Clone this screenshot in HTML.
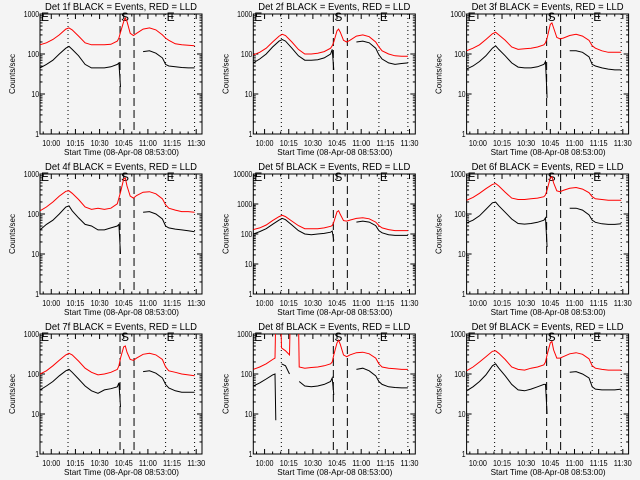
<!DOCTYPE html>
<html><head><meta charset="utf-8">
<style>
html,body{margin:0;padding:0;background:#f4f4f4;}
svg{display:block;font-family:"Liberation Sans",sans-serif;}
</style></head>
<body>
<svg id="chart" width="640" height="480" viewBox="0 0 640 480">
<rect width="640" height="480" fill="#f4f4f4"/>
</svg>
<script>
const T = [0,4,8,12,16,18,20,24,28,32,36,40,44,48,49,50,52,53,54,56,58,60,64,68,72,76,78,80,84,88,92,96];
const T8 = [0,4,8,12,13.5,14,14.5,17,17.5,20,22.5,23,28,28.5,32,36,40,44,48,49,50,52,53,54,56,58,60,64,68,72,76,78,80,84,88,92,96];
const tickLabels = ["10:00","10:15","10:30","10:45","11:00","11:15","11:30"];
const tickTimes = [7,22,37,52,67,82,97];
const dottedTimes = [17.4,78,96];
const dashedTimes = [49.7,58.4];
const detNames = ["1f","2f","3f","4f","5f","6f","7f","8f","9f"];
const N = null;
const red1 = [170,190,230,300,420,450,400,280,190,170,170,170,175,210,250,350,650,800,650,330,290,330,420,450,400,300,250,220,180,170,165,160];
const blk1 = [45,55,70,100,140,155,130,90,55,45,45,45,48,55,60,15,N,N,N,N,N,N,115,120,105,80,55,50,48,46,45,45];
const red2 = [95,110,140,200,280,310,290,200,130,100,100,105,115,140,160,200,380,420,350,220,200,220,280,300,270,200,150,120,100,90,88,88];
const blk2 = [60,75,100,150,210,230,210,140,90,70,70,72,80,100,130,40,N,N,N,N,N,N,200,210,190,140,95,75,60,55,58,60];
const red3 = [120,140,170,230,320,350,300,220,150,130,135,140,150,170,190,250,550,600,450,260,240,250,290,310,280,220,160,140,120,110,110,110];
const blk3 = [42,50,65,90,140,160,130,90,60,47,45,45,48,55,65,8,N,N,N,N,N,N,120,120,110,85,55,50,45,42,40,40];
const red4 = [120,150,200,280,370,380,330,230,150,130,140,130,140,180,250,350,750,800,500,280,250,290,350,360,320,240,170,140,125,115,115,110];
const blk4 = [40,55,70,100,150,160,120,80,55,50,40,40,45,50,55,10,N,N,N,N,N,N,110,115,100,75,50,45,42,40,38,36];
const red5 = [140,160,200,280,380,420,380,270,190,150,150,150,160,180,190,250,550,600,450,280,270,290,330,350,320,250,190,160,140,130,130,130];
const blk5 = [100,120,150,210,290,330,300,200,130,100,95,100,105,115,125,60,N,N,N,N,N,N,250,270,250,190,130,110,95,90,90,90];
const red6 = [220,260,330,430,550,580,500,350,250,230,230,240,250,270,300,400,800,850,600,380,360,390,440,460,420,340,270,240,230,220,220,220];
const blk6 = [60,70,90,130,190,200,160,110,75,58,56,58,62,70,80,15,N,N,N,N,N,N,140,140,125,95,70,62,57,55,55,57];
const red7 = [100,120,160,220,300,330,300,210,140,110,95,100,110,130,160,250,480,500,350,230,220,250,310,330,300,230,150,120,110,100,95,90];
const blk7 = [40,50,65,90,120,130,110,75,50,38,33,40,43,48,60,15,N,N,N,N,N,N,115,120,105,80,55,45,38,35,35,35];
const red8 = [130,150,180,230,250,3000,3000,3000,450,380,300,3000,3000,150,140,145,150,160,180,200,300,600,700,550,300,270,300,340,350,320,250,180,150,140,135,130,130];
const blk8 = [50,60,75,95,100,7,N,N,180,160,100,N,N,65,50,48,50,55,65,80,30,N,N,N,N,N,N,130,140,120,90,65,55,48,46,45,45];
const red9 = [120,150,200,270,370,380,330,230,150,130,125,140,150,170,200,300,600,650,400,250,250,270,320,340,310,240,160,140,130,125,125,125];
const blk9 = [38,48,65,95,160,180,140,90,55,40,38,42,48,55,55,10,N,N,N,N,N,N,110,115,100,80,48,42,40,40,40,42];

const panels = [
 {t:T,r:red1,b:blk1,dec:3},{t:T,r:red2,b:blk2,dec:3},{t:T,r:red3,b:blk3,dec:3},
 {t:T,r:red4,b:blk4,dec:3},{t:T,r:red5,b:blk5,dec:4},{t:T,r:red6,b:blk6,dec:3},
 {t:T,r:red7,b:blk7,dec:3},{t:T8,r:red8,b:blk8,dec:3},{t:T,r:red9,b:blk9,dec:3}
];
const NS="http://www.w3.org/2000/svg";
const svg=document.getElementById('chart');
function mk(tag,attrs,parent){const e=document.createElementNS(NS,tag);for(const k in attrs)e.setAttribute(k,attrs[k]);(parent||svg).appendChild(e);return e;}

panels.forEach((p,i)=>{
  const col=i%3,row=Math.floor(i/3);
  const L=40+col*213.3, R=L+162, TOP=14+row*160, B=TOP+120;
  const g=mk('g',{});
  
  
  const xs=t=>L+(t/100.6)*(R-L);
  const ys=v=>B-(Math.log10(v)/p.dec)*(B-TOP);
  const clip=mk('clipPath',{id:'c'+i},g);
  mk('rect',{x:L,y:TOP,width:R-L,height:B-TOP},clip);
  const title=mk('text',{x:(L+R)/2-(152/2),y:TOP-4,'font-size':10,textLength:152,lengthAdjust:'spacingAndGlyphs'},g);
  title.textContent='Det '+detNames[i]+' BLACK = Events, RED = LLD';
  
  
  const box=mk('rect',{x:L,y:TOP,width:R-L,height:B-TOP,fill:'none',stroke:'#000','stroke-width':1},g);
  
  
  for(let d=0;d<=p.dec;d++){
    const y=ys(Math.pow(10,d));
    mk('line',{x1:L,x2:L+5,y1:y,y2:y,stroke:'#000'},g);
    mk('line',{x1:R,x2:R-5,y1:y,y2:y,stroke:'#000'},g);
    const s=String(Math.pow(10,d));
    const lab=mk('text',{x:L-1-s.length*3.8,y:y+3,'font-size':8,textLength:s.length*3.8,lengthAdjust:'spacingAndGlyphs'},g);
    lab.textContent=s;
    
    
    if(d<p.dec){for(let m=2;m<10;m++){const ym=ys(m*Math.pow(10,d));
      mk('line',{x1:L,x2:L+2.5,y1:ym,y2:ym,stroke:'#000'},g);
      mk('line',{x1:R,x2:R-2.5,y1:ym,y2:ym,stroke:'#000'},g);}}
  }
  const yt=mk('text',{x:0,y:0,'font-size':8,'text-anchor':'middle',transform:`translate(${L-25},${(TOP+B)/2}) rotate(-90)`},g);
  yt.textContent='Counts/sec';
  
  
  for(let t=2;t<=100;t+=5){
    const x=xs(t), major=tickTimes.includes(t);
    const len=major?5:2.5;
    mk('line',{x1:x,x2:x,y1:B,y2:B-len,stroke:'#000'},g);
    mk('line',{x1:x,x2:x,y1:TOP,y2:TOP+len,stroke:'#000'},g);
  }
  tickTimes.forEach((t,k)=>{
    const lab=mk('text',{x:xs(t)-9,y:B+12,'font-size':8.5,textLength:18,lengthAdjust:'spacingAndGlyphs'},g);
    lab.textContent=tickLabels[k];
    
    
  });
  const xt=mk('text',{x:(L+R)/2-57,y:B+21,'font-size':8.5,textLength:115,lengthAdjust:'spacingAndGlyphs'},g);
  xt.textContent='Start Time (08-Apr-08 08:53:00)';
  
  
  dottedTimes.forEach(t=>{const l=mk('line',{x1:xs(t),x2:xs(t),y1:TOP,y2:B,stroke:'#000','stroke-dasharray':'1,3'},g);
    });
  dashedTimes.forEach(t=>{const l=mk('line',{x1:xs(t),x2:xs(t),y1:TOP,y2:B,stroke:'#000','stroke-dasharray':'8,4'},g);
    });
  [['E',L+1],['S',xs(dashedTimes[0])+1],['E',xs(dottedTimes[1])+1]].forEach(([s,x])=>{
    const e=mk('text',{x:x,y:TOP+7,'font-size':12},g);e.textContent=s;
    });
  function path(vals,color,name){
    let d='',pen=false;
    p.t.forEach((t,k)=>{const v=vals[k];
      if(v===null){pen=false;return;}
      d+=(pen?'L':'M')+xs(t).toFixed(1)+','+ys(v).toFixed(1);pen=true;});
    const e=mk('path',{d:d,fill:'none',stroke:color,'stroke-width':1,'clip-path':`url(#c${i})`},g);
    
    
  }
  path(p.r,'#ff0000','lld-red-series');
  path(p.b,'#000000','events-black-series');
});
</script>
</body></html>
